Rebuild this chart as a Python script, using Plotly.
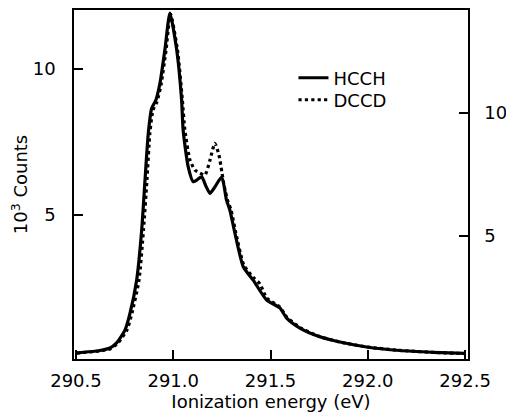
import plotly.graph_objects as go

# HCCH (left axis, 10^3 counts)
hcch_x = [290.504, 290.623, 290.675, 290.709, 290.752, 290.778, 290.812, 290.838,
          290.855, 290.872, 290.889, 290.911, 290.932, 290.957, 290.983, 291.018,
          291.043, 291.051, 291.077, 291.103, 291.122, 291.146, 291.168, 291.189,
          291.214, 291.249, 291.274, 291.291, 291.317, 291.360, 291.411, 291.480,
          291.548, 291.583, 291.651, 291.754, 291.857, 291.994, 292.165, 292.336, 292.499]
hcch_y = [0.28, 0.36, 0.445, 0.62, 1.06, 1.64, 2.77, 4.49,
          6.20, 7.81, 8.65, 8.94, 9.52, 10.65, 11.91, 10.65,
          8.94, 7.91, 6.65, 6.14, 6.20, 6.31, 5.99, 5.74,
          5.96, 6.30, 5.51, 5.17, 4.38, 3.23, 2.77, 2.09,
          1.82, 1.47, 1.13, 0.83, 0.65, 0.48, 0.36, 0.30, 0.26]

# DCCD (right axis, 10^3 counts)
dccd_x = [290.504, 290.623, 290.675, 290.716, 290.762, 290.788, 290.824, 290.847,
          290.865, 290.880, 290.896, 290.916, 290.937, 290.963, 290.986, 291.022,
          291.047, 291.060, 291.086, 291.112, 291.137, 291.163, 291.189, 291.214,
          291.235, 291.250, 291.261, 291.279, 291.297, 291.322, 291.363, 291.410,
          291.446, 291.480, 291.548, 291.583, 291.651, 291.754, 291.857, 291.994,
          292.165, 292.336, 292.499]
dccd_y = [0.24, 0.33, 0.41, 0.65, 1.18, 1.87, 3.21, 5.24,
          7.28, 9.19, 10.12, 10.45, 11.14, 12.56, 14.02, 12.56,
          10.53, 9.31, 8.09, 7.68, 7.56, 7.48, 8.09, 8.77,
          8.29, 7.60, 7.07, 6.46, 6.06, 5.12, 3.82, 3.33,
          3.05, 2.48, 2.11, 1.71, 1.28, 0.91, 0.69, 0.49,
          0.35, 0.27, 0.22]

x_ticks = [290.5, 291.0, 291.5, 292.0, 292.5]
y_ticks = [5, 10]

FONT = "DejaVu Sans, Liberation Sans, Arial, sans-serif"

fig = go.Figure()
fig.add_trace(go.Scatter(x=hcch_x, y=hcch_y, mode="lines", name="HCCH", legend="legend",
                         line=dict(color="black", width=3.2, shape="spline", smoothing=0.6)))
fig.add_trace(go.Scatter(x=dccd_x, y=dccd_y, mode="lines", name="DCCD", yaxis="y2", legend="legend2",
                         line=dict(color="black", width=3.2, dash="dot", shape="spline", smoothing=0.6)))

leg_common = dict(xanchor="left", yanchor="middle", bgcolor="rgba(0,0,0,0)",
                  font=dict(size=18), borderwidth=0)

fig.update_layout(
    width=506, height=419,
    margin=dict(l=74, r=38, t=10, b=60),
    plot_bgcolor="white", paper_bgcolor="white",
    font=dict(family=FONT, size=18, color="black"),
    showlegend=True,
    legend=dict(x=0.557, y=0.805, **leg_common),
    legend2=dict(x=0.557, y=0.742, **leg_common),
    xaxis=dict(range=[290.49, 292.515], tickvals=x_ticks, tickformat=".1f",
               ticks="inside", ticklen=9, tickwidth=1.5, tickcolor="black",
               showline=True, linecolor="black", linewidth=1.5, mirror=True,
               showgrid=False, zeroline=False, ticklabelstandoff=5, automargin=False,
               title=dict(text="Ionization energy (eV)", standoff=0, font=dict(size=18))),
    yaxis=dict(range=[0.07, 12.02], tickvals=y_ticks,
               ticks="inside", ticklen=9, tickwidth=1.5, tickcolor="black",
               showline=True, linecolor="black", linewidth=1.5,
               showgrid=False, zeroline=False, ticklabelstandoff=13, automargin=False,
               title=dict(text="10<sup>3</sup> Counts", standoff=0, font=dict(size=18))),
    yaxis2=dict(range=[0, 14.19], tickvals=y_ticks, overlaying="y", side="right",
                ticks="inside", ticklen=9, tickwidth=1.5, tickcolor="black",
                showline=True, linecolor="black", linewidth=1.5,
                showgrid=False, zeroline=False, ticklabelstandoff=11, automargin=False),
)

fig.write_html("out.html", config={"displayModeBar": False},
               post_script="document.body.style.margin='0';")
